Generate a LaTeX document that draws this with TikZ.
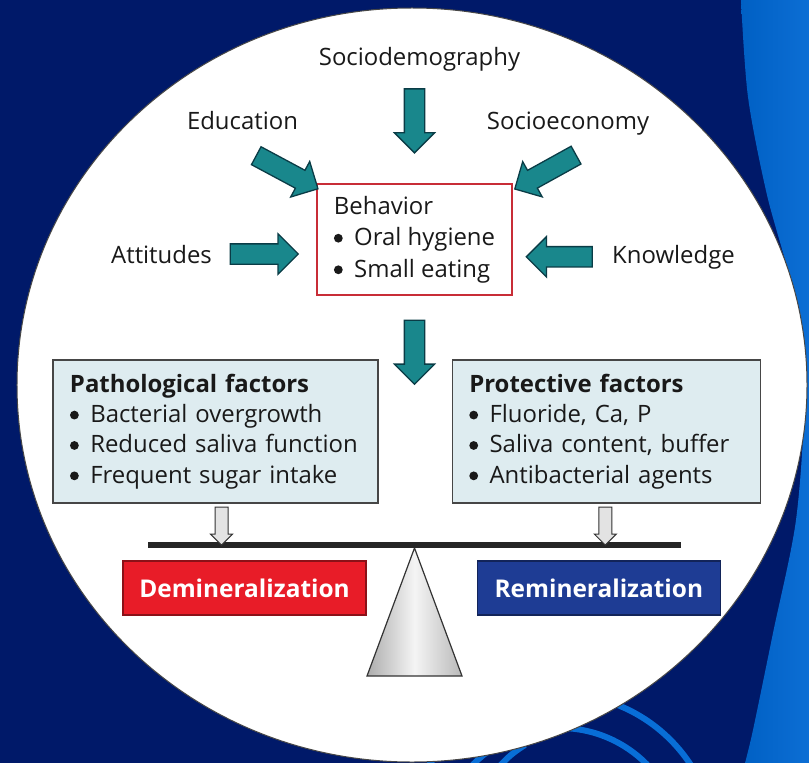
\documentclass[tikz,border=0pt]{standalone}
\usepackage{fontspec}
\setmainfont{Open Sans}
\usetikzlibrary{positioning,shapes.arrows}
\definecolor{navy}{RGB}{0,25,105}
\definecolor{bandblue}{RGB}{0,96,196}
\definecolor{bandlight}{RGB}{12,110,212}
\definecolor{ringblue}{RGB}{8,110,215}
\definecolor{tealfill}{RGB}{25,135,140}
\definecolor{tealline}{RGB}{10,60,70}
\definecolor{boxred}{RGB}{200,45,55}
\definecolor{boxgray}{RGB}{70,70,70}
\definecolor{factorfill}{RGB}{222,236,240}
\definecolor{deminred}{RGB}{232,28,40}
\definecolor{reminblue}{RGB}{30,60,148}
\definecolor{inkblack}{RGB}{25,25,25}
\newcommand{\itemdot}{\tikz[baseline=-7.5bp]\fill[inkblack] (0,0) circle [radius=4.4bp];\hspace{11.5bp}}
\tikzset{
  label text/.style={
    text=inkblack,
    font=\fontsize{24}{30}\selectfont,
    inner sep=0pt,
    anchor=base,
  },
  behavior box/.style={
    draw=boxred,
    line width=1.5bp,
    fill=white,
    minimum width=195bp,
    minimum height=111bp,
    inner sep=0pt,
    align=left,
    text=inkblack,
    font=\fontsize{24}{31.7}\selectfont,
  },
  factor box/.style={
    draw=boxgray,
    line width=1.3bp,
    fill=factorfill,
    text width=#1,
    inner xsep=17bp,
    inner ysep=0pt,
    minimum height=143bp,
    align=left,
    text=inkblack,
    font=\fontsize{24}{30.5}\selectfont,
  },
  outcome box/.style={
    fill=#1,
    draw=#1!60!black,
    line width=1.3bp,
    minimum width=243bp,
    minimum height=54bp,
    inner sep=0pt,
    text=white,
    font=\fontsize{24.5}{30}\selectfont\bfseries,
  },
  fat arrow/.style={
    single arrow,
    draw=tealline,
    fill=tealfill,
    line width=1.3bp,
    minimum height=#1,
    inner xsep=0pt,
    inner ysep=9.5bp,
    single arrow head extend=10bp,
    sloped,
    allow upside down,
  },
  thin arrow/.style={
    single arrow,
    draw=gray!40!black,
    fill=gray!22,
    line width=1bp,
    minimum height=#1,
    inner xsep=0pt,
    inner ysep=6bp,
    single arrow head extend=4.5bp,
    sloped,
    allow upside down,
  },
  ripple/.style={
    draw=ringblue,
    line width=6bp,
  }
}
\begin{document}
\begin{tikzpicture}[x=1bp, y=-1bp]
        \useasboundingbox (0,0) rectangle (809,763);
        \begin{scope}
          \clip (0,0) rectangle (809,763);
          \fill [navy] (0,0) rectangle (809,763);
          \shade [left color=bandblue, right color=bandlight] (809,0) -- plot [smooth] coordinates {(741,0) (748,97) (767,195) (795,300) (804,400) (796,520) (773,633) (753,730) (745,763)} -- (809,763) -- cycle;
          \draw [ripple] (560,850) circle [radius=122bp];
          \draw [ripple] (560,850) circle [radius=156bp];
          \draw [ripple] (498,768) .. controls (505,760) and (512,753) .. (525,745);
          \draw [fill=white, draw=gray!55!black, line width=1bp] (412,385) ellipse [x radius=395bp, y radius=377bp];
        \end{scope}

        \node [behavior box] (behav) at (414.5,239.5) {Behavior\\\itemdot Oral hygiene\\\itemdot Small eating};

        \node [label text] (socio) at (419.5,66) {Sociodemography};
        \node [label text] (edu) at (242.5,129) {Education};
        \node [label text] (socioeco) at (568,129) {Socioeconomy};
        \node [label text] (att) at (161.5,263) {Attitudes};
        \node [label text] (know) at (673.5,263) {Knowledge};

        \coordinate (att-tip) at (att.east -| behav.west);
        \coordinate (know-tip) at (know.west -| behav.east);
        \coordinate (pivot) at (414.5,548);

        \path (behav.north |- socio.south) -- (behav.north) node [pos=.394, fat arrow=64bp] (a-socio) {};
        \path ([xshift=9.5bp,yshift=-24bp]edu.south) -- ([xshift=-3bp,yshift=-3bp]behav.north west) node [midway, fat arrow=70bp] (a-edu) {};
        \path ([xshift=12bp,yshift=-18bp]socioeco.south) -- ([xshift=7bp,yshift=-3bp]behav.north east) node [midway, fat arrow=70bp] (a-socioeco) {};
        \path ([xshift=13bp]att.east) -- ([xshift=-23bp]att-tip) node [midway, fat arrow=68bp] (a-att) {};
        \path ([xshift=-14bp]know.west) -- ([xshift=18bp]know-tip) node [midway, fat arrow=66bp] (a-know) {};
        \path (behav.south) -- (pivot) node [pos=.204, fat arrow=64bp] (a-behav) {};

        \node [factor box=291bp] (patho) at (215.5,431.5) {\textbf{Pathological factors}\\\itemdot Bacterial overgrowth\\\itemdot Reduced saliva function\\\itemdot Frequent sugar intake};
        \node [factor box=274bp, right=73bp of patho] (prot) {\textbf{Protective factors}\\\itemdot Fluoride, Ca, P\\\itemdot Saliva content, buffer\\\itemdot Antibacterial agents};

        \coordinate (beam-l) at (148,545);
        \coordinate (beam-r) at (681,545);
        \coordinate (patho-drop) at (patho.south |- beam-l);
        \coordinate (prot-drop) at (prot.south |- beam-r);

        \shadedraw [left color=gray!65, right color=gray!55, middle color=gray!8, draw=black!80, line width=1.2bp] (pivot) -- (462,676) -- (367,676) -- cycle;
        \draw [line width=6bp, black!85] (beam-l) -- (beam-r);

        \path ([xshift=6bp]patho.south) -- ([xshift=6bp,yshift=3bp]patho-drop) node [midway, thin arrow=38bp] (a-patho) {};
        \path ([xshift=-1bp]prot.south) -- ([xshift=-1bp,yshift=3bp]prot-drop) node [midway, thin arrow=38bp] (a-prot) {};

        \node [outcome box=deminred] (demin) at (244.5,588) {Demineralization};
        \node [outcome box=reminblue, right=110bp of demin] (remin) {Remineralization};
    \end{tikzpicture}
\end{document}
